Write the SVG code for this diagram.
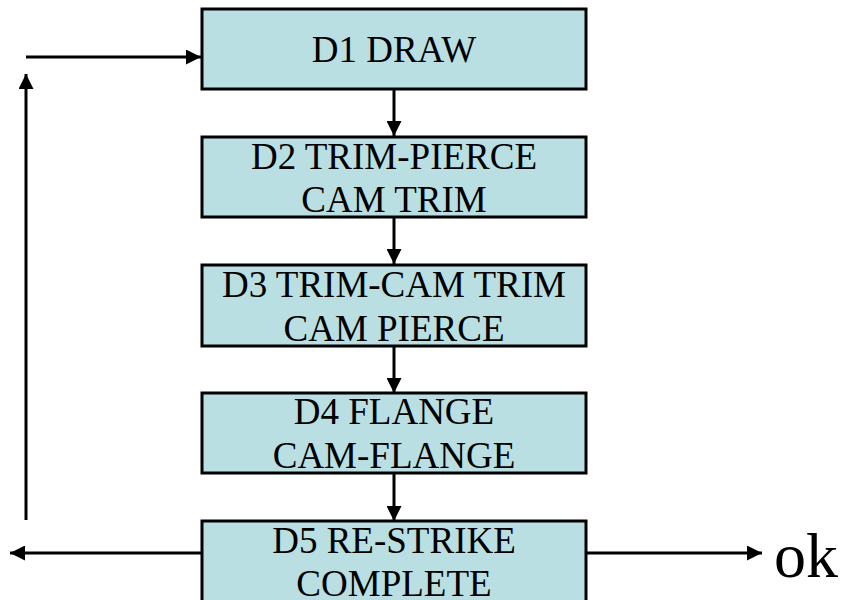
<svg xmlns="http://www.w3.org/2000/svg" width="849" height="600" viewBox="0 0 849 600">
  <style>
    .box { fill: #b9dfe3; stroke: #000; stroke-width: 3; }
    .lbl { font-family: "Liberation Serif", "Times New Roman", serif; font-size: 37px; fill: #000; text-anchor: middle; }
    .wire { fill: none; stroke: #000; stroke-width: 3; }
    .ok { font-family: "Liberation Serif", "Times New Roman", serif; font-size: 64px; fill: #000; }
  </style>
  <defs>
    <marker id="arrow" viewBox="0 0 10 10" refX="10" refY="5" markerWidth="5" markerHeight="5" markerUnits="strokeWidth" orient="auto">
      <path d="M0,0 L10,5 L0,10 z" fill="#000"/>
    </marker>
  </defs>
  <rect width="849" height="600" fill="#fff"/>

  <g id="connectors">
    <line class="wire" x1="394" y1="89" x2="394" y2="136" marker-end="url(#arrow)"/>
    <line class="wire" x1="394" y1="217" x2="394" y2="264" marker-end="url(#arrow)"/>
    <line class="wire" x1="394" y1="346" x2="394" y2="393" marker-end="url(#arrow)"/>
    <line class="wire" x1="394" y1="473" x2="394" y2="521" marker-end="url(#arrow)"/>
    <line class="wire" x1="26" y1="57" x2="201" y2="57" marker-end="url(#arrow)"/>
    <line class="wire" x1="26" y1="520" x2="26" y2="74" marker-end="url(#arrow)"/>
    <line class="wire" x1="202" y1="553" x2="10" y2="553" marker-end="url(#arrow)"/>
    <line class="wire" x1="586" y1="553" x2="762" y2="553" marker-end="url(#arrow)"/>
  </g>

  <g id="d1">
    <rect class="box" x="202" y="9" width="384" height="80"/>
    <text class="lbl" x="394" y="62">D1 DRAW</text>
  </g>
  <g id="d2">
    <rect class="box" x="202" y="137" width="384" height="80"/>
    <text class="lbl" x="394" y="169">D2 TRIM-PIERCE</text>
    <text class="lbl" x="394" y="212">CAM TRIM</text>
  </g>
  <g id="d3">
    <rect class="box" x="202" y="265" width="384" height="81"/>
    <text class="lbl" x="394" y="297">D3 TRIM-CAM TRIM</text>
    <text class="lbl" x="394" y="341">CAM PIERCE</text>
  </g>
  <g id="d4">
    <rect class="box" x="202" y="393" width="384" height="80"/>
    <text class="lbl" x="394" y="424">D4 FLANGE</text>
    <text class="lbl" x="394" y="468">CAM-FLANGE</text>
  </g>
  <g id="d5">
    <rect class="box" x="202" y="521" width="384" height="90"/>
    <text class="lbl" x="394" y="553">D5 RE-STRIKE</text>
    <text class="lbl" x="394" y="596">COMPLETE</text>
  </g>
  <g id="ok">
    <text class="ok" x="774" y="577">ok</text>
  </g>
</svg>
